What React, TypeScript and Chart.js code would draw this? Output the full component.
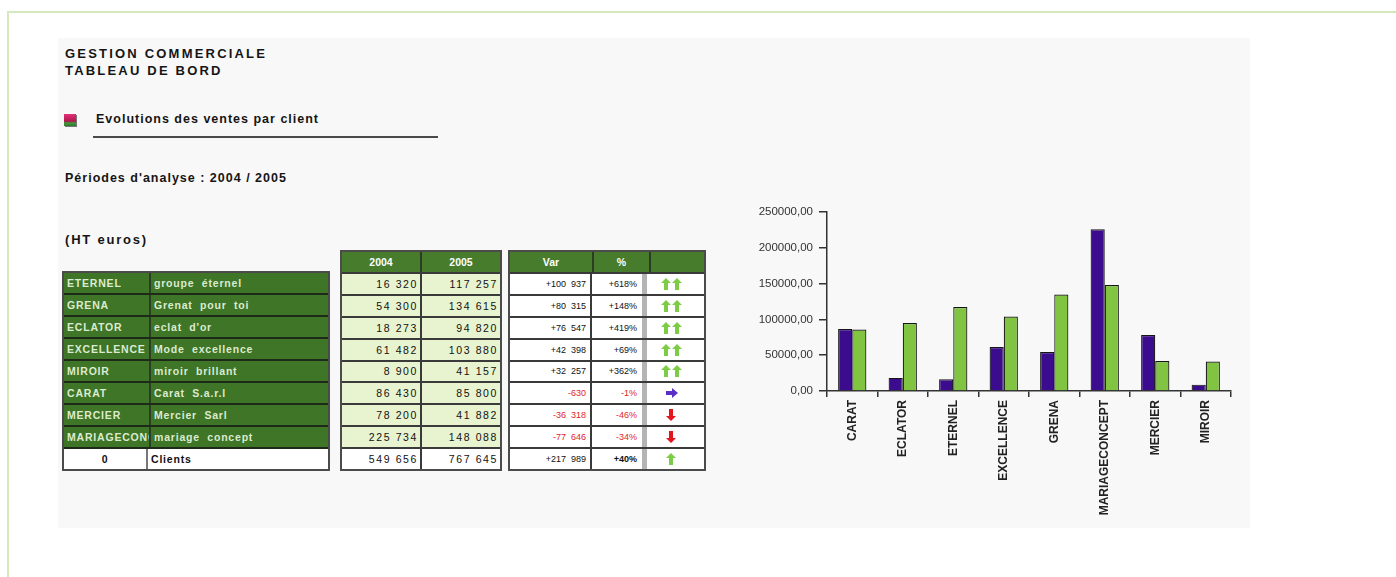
import React, { useEffect, useRef } from "react";
import { Chart, registerables } from "chart.js";

Chart.register(...registerables);

// ---- Chart data ----
const chartCategories = ["CARAT", "ECLATOR", "ETERNEL", "EXCELLENCE", "GRENA", "MARIAGECONCEPT", "MERCIER", "MIROIR"];
const sales2004 = [86430, 18273, 16320, 61482, 54300, 225734, 78200, 8900];
const sales2005 = [85800, 94820, 117257, 103880, 134615, 148088, 41882, 41157];
const yMax = 250000;
const yStep = 50000;

// ---- Table data ----
const tableCodes = ["ETERNEL", "GRENA", "ECLATOR", "EXCELLENCE", "MIROIR", "CARAT", "MERCIER", "MARIAGECONCEPT"];
const tableNames = ["groupe  éternel", "Grenat  pour  toi", "eclat  d'or", "Mode  excellence", "miroir  brillant", "Carat  S.a.r.l", "Mercier  Sarl", "mariage  concept"];
const table2004 = ["16 320", "54 300", "18 273", "61 482", "8 900", "86 430", "78 200", "225 734"];
const table2005 = ["117 257", "134 615", "94 820", "103 880", "41 157", "85 800", "41 882", "148 088"];
const tableVar = ["+100  937", "+80  315", "+76  547", "+42  398", "+32  257", "-630", "-36  318", "-77  646"];
const tablePct = ["+618%", "+148%", "+419%", "+69%", "+362%", "-1%", "-46%", "-34%"];
const tableTrend = ["up2", "up2", "up2", "up2", "up2", "flat", "down", "down"];
const headers2 = ["2004", "2005"];
const headers3 = ["Var", "%", ""];
const totalRow = ["0", "Clients", "549 656", "767 645", "+217  989", "+40%", "up"];

const FONT = '"Liberation Sans", Arial, sans-serif';
const DARK_GREEN = "#3e7526";
const HEAD_GREEN = "#467c2b";
const LIGHT_GREEN = "#e8f3cf";
const PURPLE = "#3c0c8e";
const GREEN_BAR = "#80c442";

function Arrow({ kind }: { kind: string }) {
  const up = (x: number, color: string) => (
    <polygon
      key={x}
      points={`${x + 5},0 ${x + 10},5 ${x + 7},5 ${x + 7},12 ${x + 3},12 ${x + 3},5 ${x},5`}
      fill={color}
    />
  );
  if (kind === "up2") {
    return (
      <svg width={22} height={12} viewBox="0 0 22 12">
        {up(0, "#7ccd45")}
        {up(11, "#7ccd45")}
      </svg>
    );
  }
  if (kind === "up") {
    return (
      <svg width={11} height={13} viewBox="0 0 11 13">
        {up(0, "#7ccd45")}
      </svg>
    );
  }
  if (kind === "down") {
    return (
      <svg width={11} height={12} viewBox="0 0 11 12">
        <g transform="rotate(180 5 6)">{up(0, "#e3161d")}</g>
      </svg>
    );
  }
  return (
    <svg width={12} height={10} viewBox="0 0 12 10">
      <polygon points="0,3 6,3 6,0 12,5 6,10 6,7 0,7" fill="#5a2fc8" />
    </svg>
  );
}

function BarChart() {
  const ref = useRef<HTMLCanvasElement>(null);
  useEffect(() => {
    if (!ref.current) return;
    const chart = new Chart(ref.current, {
      type: "bar",
      data: {
        labels: chartCategories,
        datasets: [
          { label: "2004", data: sales2004, backgroundColor: PURPLE, borderColor: "#151515", borderWidth: 1.2 },
          { label: "2005", data: sales2005, backgroundColor: GREEN_BAR, borderColor: "#151515", borderWidth: 1.2 },
        ],
      },
      options: {
        animation: false,
        responsive: false,
        layout: { padding: { top: 17, right: 14, left: 0, bottom: 0 } },
        plugins: { legend: { display: false }, tooltip: { enabled: false } },
        datasets: { bar: { categoryPercentage: 0.56, barPercentage: 1 } },
        scales: {
          x: {
            grid: { drawOnChartArea: false, drawTicks: true, tickLength: 6, color: "#333", offset: true, lineWidth: 1.5 },
            border: { color: "#333", width: 1.5 },
            ticks: {
              minRotation: 90,
              maxRotation: 90,
              autoSkip: false,
              padding: 3,
              color: "#222",
              font: { family: FONT, size: 12, weight: "bold" },
            },
            afterFit: (s: any) => {
              s.height = 134;
            },
          },
          y: {
            min: 0,
            max: yMax,
            grid: { drawOnChartArea: false, drawTicks: true, tickLength: 8, color: "#333", lineWidth: 1.5 },
            border: { color: "#333", width: 1.5 },
            ticks: {
              stepSize: yStep,
              padding: 6,
              color: "#333",
              font: { family: FONT, size: 11.5 },
              callback: (v: any) => `${v},00`,
            },
            afterFit: (s: any) => {
              s.width = 87;
            },
          },
        },
      } as any,
    });
    return () => chart.destroy();
  }, []);
  return (
    <canvas
      ref={ref}
      width={505}
      height={330}
      style={{ position: "absolute", left: 740, top: 195, width: 505, height: 330 }}
    />
  );
}

const textBase: React.CSSProperties = {
  position: "absolute",
  fontFamily: FONT,
  color: "#151515",
  whiteSpace: "pre",
  lineHeight: "13px",
};

function Table1() {
  const rows = tableCodes.map((c, i) => [c, tableNames[i]]);
  rows.push([totalRow[0], totalRow[1]]);
  return (
    <div
      style={{
        position: "absolute",
        left: 62,
        top: 271,
        width: 268,
        height: 200,
        boxSizing: "border-box",
        border: "2px solid #4b4b4b",
        display: "flex",
        flexDirection: "column",
        background: "#fff",
      }}
    >
      {rows.map((r, i) => {
        const last = i === rows.length - 1;
        return (
          <div
            key={i}
            style={{
              flex: 1,
              display: "flex",
              borderTop: i > 0 ? "2px solid #1d2a17" : "none",
              background: last ? "#fff" : DARK_GREEN,
              color: last ? "#111" : "#dcebd0",
              fontFamily: FONT,
              fontSize: 10.5,
              fontWeight: "bold",
              letterSpacing: 0.8,
              whiteSpace: "pre",
              alignItems: "stretch",
            }}
          >
            <div
              style={{
                width: 82,
                borderRight: last ? "2px solid #777" : "2px solid #2b3d22",
                overflow: "hidden",
                display: "flex",
                alignItems: "center",
                justifyContent: last ? "center" : "flex-start",
                paddingLeft: last ? 0 : 3,
              }}
            >
              {r[0]}
            </div>
            <div style={{ flex: 1, display: "flex", alignItems: "center", paddingLeft: 3, overflow: "hidden" }}>{r[1]}</div>
          </div>
        );
      })}
    </div>
  );
}

function Table2() {
  const rows = table2004.map((v, i) => [v, table2005[i]]);
  rows.push([totalRow[2], totalRow[3]]);
  return (
    <div
      style={{
        position: "absolute",
        left: 340,
        top: 250,
        width: 162,
        height: 221,
        boxSizing: "border-box",
        border: "2px solid #4b4b4b",
        display: "flex",
        flexDirection: "column",
        background: "#fff",
        fontFamily: FONT,
      }}
    >
      <div style={{ flex: 1, display: "flex", background: HEAD_GREEN, color: "#fff", fontWeight: "bold", fontSize: 10.5 }}>
        {headers2.map((h, j) => (
          <div
            key={j}
            style={{
              flex: 1,
              display: "flex",
              alignItems: "center",
              justifyContent: "center",
              borderRight: j === 0 ? "2px solid #2b3d22" : "none",
            }}
          >
            {h}
          </div>
        ))}
      </div>
      {rows.map((r, i) => {
        const last = i === rows.length - 1;
        return (
          <div
            key={i}
            style={{
              flex: 1,
              display: "flex",
              borderTop: "2px solid #3a3a3a",
              background: last ? "#fff" : LIGHT_GREEN,
              color: "#111",
              fontSize: 10.5,
              letterSpacing: 1.6,
              whiteSpace: "pre",
            }}
          >
            {r.map((v, j) => (
              <div
                key={j}
                style={{
                  flex: 1,
                  display: "flex",
                  alignItems: "center",
                  justifyContent: "flex-end",
                  paddingRight: 2,
                  borderRight: j === 0 ? "2px solid #3a3a3a" : "none",
                }}
              >
                {v}
              </div>
            ))}
          </div>
        );
      })}
    </div>
  );
}

function Table3() {
  const rows = tableVar.map((v, i) => [v, tablePct[i], tableTrend[i]]);
  rows.push([totalRow[4], totalRow[5], totalRow[6]]);
  const widths = [82, 55, 56];
  return (
    <div
      style={{
        position: "absolute",
        left: 508,
        top: 250,
        width: 198,
        height: 221,
        boxSizing: "border-box",
        border: "2px solid #4b4b4b",
        display: "flex",
        flexDirection: "column",
        background: "#fff",
        fontFamily: FONT,
      }}
    >
      <div style={{ flex: 1, display: "flex", background: HEAD_GREEN, color: "#fff", fontWeight: "bold", fontSize: 10.5 }}>
        {headers3.map((h, j) => (
          <div
            key={j}
            style={{
              width: widths[j],
              flex: j === 2 ? 1 : undefined,
              display: "flex",
              alignItems: "center",
              justifyContent: "center",
              borderRight: j < 2 ? "2px solid #2b3d22" : "none",
            }}
          >
            {h}
          </div>
        ))}
      </div>
      {rows.map((r, i) => {
        const neg = r[0].startsWith("-");
        return (
          <div
            key={i}
            style={{
              flex: 1,
              display: "flex",
              borderTop: "2px solid #3a3a3a",
              background: "#fff",
              fontSize: 9,
              whiteSpace: "pre",
              color: neg ? "#e0262a" : "#111",
            }}
          >
            <div
              style={{
                width: widths[0],
                display: "flex",
                alignItems: "center",
                justifyContent: "flex-end",
                paddingRight: 4,
                boxSizing: "border-box",
                borderRight: "2px solid #3a3a3a",
              }}
            >
              {r[0]}
            </div>
            <div
              style={{
                width: widths[1],
                display: "flex",
                alignItems: "center",
                justifyContent: "flex-end",
                paddingRight: 5,
                boxSizing: "border-box",
                borderRight: "5px solid #b4b4b4",
                fontWeight: i === rows.length - 1 ? "bold" : "normal",
              }}
            >
              {r[1]}
            </div>
            <div style={{ flex: 1, display: "flex", alignItems: "center", justifyContent: "center", paddingRight: 8 }}>
              <Arrow kind={r[2]} />
            </div>
          </div>
        );
      })}
    </div>
  );
}

export default function App() {
  const titleStyle: React.CSSProperties = { ...textBase, fontSize: 13, fontWeight: "bold", letterSpacing: 2.2 };
  const subStyle: React.CSSProperties = { ...textBase, fontSize: 12.5, fontWeight: "bold", letterSpacing: 1 };
  return (
    <div
      style={{
        position: "absolute",
        left: 0,
        top: 0,
        width: 1396,
        height: 577,
        background: "#fff",
        overflow: "hidden",
        fontFamily: FONT,
      }}
    >
      {/* page frame lines */}
      <div style={{ position: "absolute", left: 7, top: 11, width: 1389, height: 2, background: "#d4e9bd" }} />
      <div style={{ position: "absolute", left: 7, top: 11, width: 2, height: 566, background: "#d4e9bd" }} />
      {/* grey panel */}
      <div style={{ position: "absolute", left: 58, top: 38, width: 1192, height: 490, background: "#f8f8f8" }} />

      <div style={{ ...titleStyle, left: 65, top: 46.5 }}>GESTION COMMERCIALE</div>
      <div style={{ ...titleStyle, left: 65, top: 63.5 }}>TABLEAU DE BORD</div>

      <div
        style={{
          position: "absolute",
          left: 64,
          top: 114,
          width: 12,
          height: 12,
          background: "linear-gradient(180deg, #e2307a 0%, #b0184e 60%, #3f9a3a 75%, #2f7a2a 100%)",
          boxShadow: "1px 1px 0 #777",
        }}
      />
      <div style={{ ...subStyle, left: 96, top: 113 }}>Evolutions des ventes par client</div>
      <div style={{ position: "absolute", left: 93, top: 136, width: 345, height: 2, background: "#4a4a4a" }} />

      <div style={{ ...subStyle, left: 65, top: 171.5 }}>Périodes d'analyse : 2004 / 2005</div>
      <div style={{ ...titleStyle, fontSize: 13, letterSpacing: 1.8, left: 65, top: 233 }}>(HT euros)</div>

      <Table1 />
      <Table2 />
      <Table3 />
      <BarChart />
    </div>
  );
}
